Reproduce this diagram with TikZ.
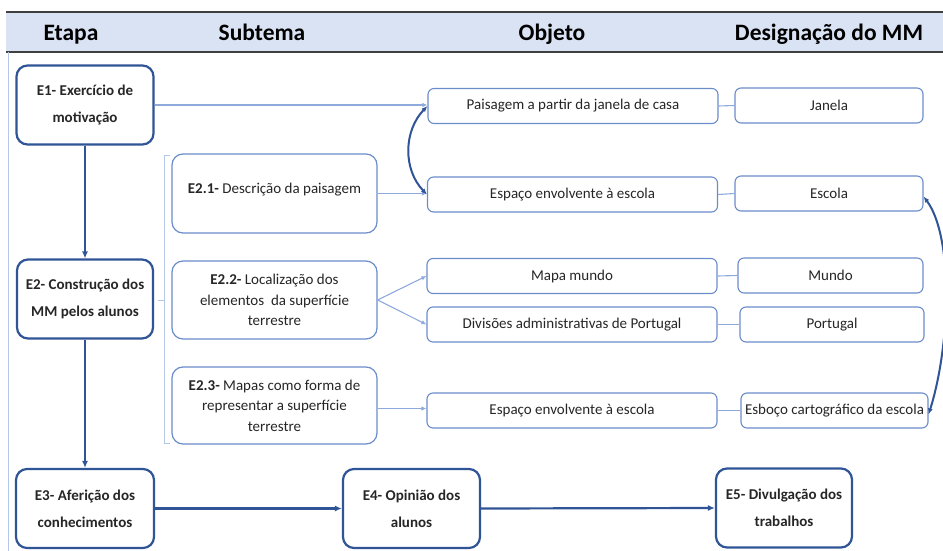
\documentclass[tikz,border=0pt]{standalone}
\usepackage{fontspec}
\setmainfont{Carlito}
\usetikzlibrary{arrows.meta}
\definecolor{darkblue}{HTML}{2F5597}
\definecolor{midblue}{HTML}{6A8CCB}
\definecolor{lightblue}{HTML}{8EA9DB}
\definecolor{headfill}{HTML}{DAE3F3}
\definecolor{edgeblue}{HTML}{B4C7E7}
\definecolor{txt}{HTML}{262626}
\tikzset{
  etapabox/.style={draw=darkblue, line width=2.2pt, rounded corners=11pt, fill=white,
    align=center, font=\fontsize{15}{27}\selectfont\bfseries, text=txt, inner sep=0pt},
  subbox/.style={draw=midblue, line width=1.2pt, rounded corners=11pt, fill=white,
    align=center, font=\fontsize{15}{20.5}\selectfont, text=txt, minimum width=205pt, inner sep=0pt},
  objbox/.style={draw=midblue, line width=1.1pt, rounded corners=6pt, fill=white,
    align=center, font=\fontsize{15}{17}\selectfont, text=txt, minimum height=35pt, inner sep=0pt},
  headtxt/.style={font=\fontsize{23.5}{25}\selectfont\bfseries, text=black, inner sep=0pt, anchor=base},
  thinarr/.style={draw=lightblue, line width=1.1pt, -{Latex[length=5pt,width=4.5pt]}},
  thinline/.style={draw=lightblue, line width=1.1pt},
  thickarr/.style={draw=darkblue, line width=2.2pt, -{Latex[length=7pt,width=6pt]}},
  curvearr/.style={draw=darkblue, line width=2pt, {Latex[length=6pt,width=5pt]}-{Latex[length=6pt,width=5pt]}},
}
\begin{document}
\begin{tikzpicture}[x=1pt,y=-1pt]
\useasboundingbox (0,0) rectangle (943,551);
% header
\fill[headfill] (6,12) rectangle (943,52);
\draw[color=black!75, line width=1.4pt] (6,12) -- (943,12);
\draw[color=black!75, line width=1.4pt] (6,52) -- (943,52);
\draw[color=edgeblue, line width=1pt] (8,52) -- (8,551);
\node[headtxt] (hEtapa) at (71,41) {Etapa};
\node[headtxt] (hSub) at (262,41) {Subtema};
\node[headtxt] (hObj) at (552,41) {Objeto};
\node[headtxt] (hDes) at (829,41) {Designação do MM};
% etapa boxes
\node[etapabox, minimum width=137pt, minimum height=79pt] (E1) at (85,105) {E1- Exercício de\\motivação};
\node[etapabox, minimum width=136pt, minimum height=79pt] (E2) at (85,299) {E2- Construção dos\\MM pelos alunos};
\node[etapabox, minimum width=138pt, minimum height=79pt] (E3) at (85,508.5) {E3- Aferição dos\\conhecimentos};
\node[etapabox, minimum width=137pt, minimum height=79pt] (E4) at (411.5,508.5) {E4- Opinião dos\\alunos};
\node[etapabox, minimum width=136pt, minimum height=79pt] (E5) at (784,508) {E5- Divulgação dos\\trabalhos};
% bracket
\draw[color=edgeblue, line width=1pt] (170,155) -- (164,155) -- (164,443) -- (170,443);
\draw[color=edgeblue, line width=1pt] (158,300) -- (164,300);
% subtema boxes
\node[subbox, minimum height=79pt] (e21) at (274.5,193.5) {};
\node[font=\fontsize{15}{20.5}\selectfont, text=txt, inner sep=0pt] (e21t) at (274.5,190) {\textbf{E2.1-} Descrição da paisagem};
\node[subbox, minimum height=78pt] (e22) at (274.5,300) {\textbf{E2.2-} Localização dos\\elementos\ \ da superfície\\terrestre};
\node[subbox, minimum height=77pt] (e23) at (274.5,405.5) {\textbf{E2.3-} Mapas como forma de\\representar a superfície\\terrestre};
% objeto boxes
\node[objbox, minimum width=290pt] (pais) at (573,106) {Paisagem a partir da janela de casa};
\node[objbox, minimum width=290pt] (esp1) at (572.5,194.5) {Espaço envolvente à escola};
\node[objbox, minimum width=290pt] (mapa) at (572,276) {Mapa mundo};
\node[objbox, minimum width=290pt] (div) at (572,324.5) {Divisões administrativas de Portugal};
\node[objbox, minimum width=290pt] (esp2) at (572,410.5) {Espaço envolvente à escola};
% designacao boxes
\node[objbox, minimum width=188pt] (jan) at (829,105.5) {Janela};
\node[objbox, minimum width=188pt] (escola) at (829,193.5) {Escola};
\node[objbox, minimum width=185pt] (mundo) at (830.5,275.5) {Mundo};
\node[objbox, minimum width=184pt] (port) at (832,324.5) {Portugal};
\node[objbox, minimum width=187pt] (esb) at (834.5,410.5) {Esboço cartográfico da escola};
% thin connectors
\draw[thinarr] (E1.east) -- (E1.east -| pais.west);
\draw[thinarr] (e21.east) -- (e21.east -| esp1.west);
\draw[thinarr] (e22.east) -- (mapa.west);
\draw[thinarr] (e22.east) -- (div.west);
\draw[thinarr] ([yshift=-3pt]e23.east) -- ([yshift=-3pt]e23.east -| esp2.west);
\draw[thinline] (pais.east) -- (jan.west);
\draw[thinline] (esp1.east) -- (escola.west);
\draw[thinline] (mapa.east) -- (mundo.west);
\draw[thinline] (div.east) -- (port.west);
\draw[thinline] (esp2.east) -- (esb.west);
% thick arrows
\draw[thickarr] (E1.south) -- (E2.north);
\draw[thickarr] (E2.south) -- (E3.north);
\draw[thickarr] (E3.east) -- (E4.west);
\draw[thickarr] (E4.east) -- (E5.west);
% curved double arrows
\draw[curvearr] (pais.west) .. controls +(-24,25) and +(-24,-25) .. (esp1.west);
\draw[curvearr] ([yshift=-3pt]escola.east) .. controls +(30,40) and +(22,-70) .. ([yshift=-4pt]esb.east);
\end{tikzpicture}
\end{document}
